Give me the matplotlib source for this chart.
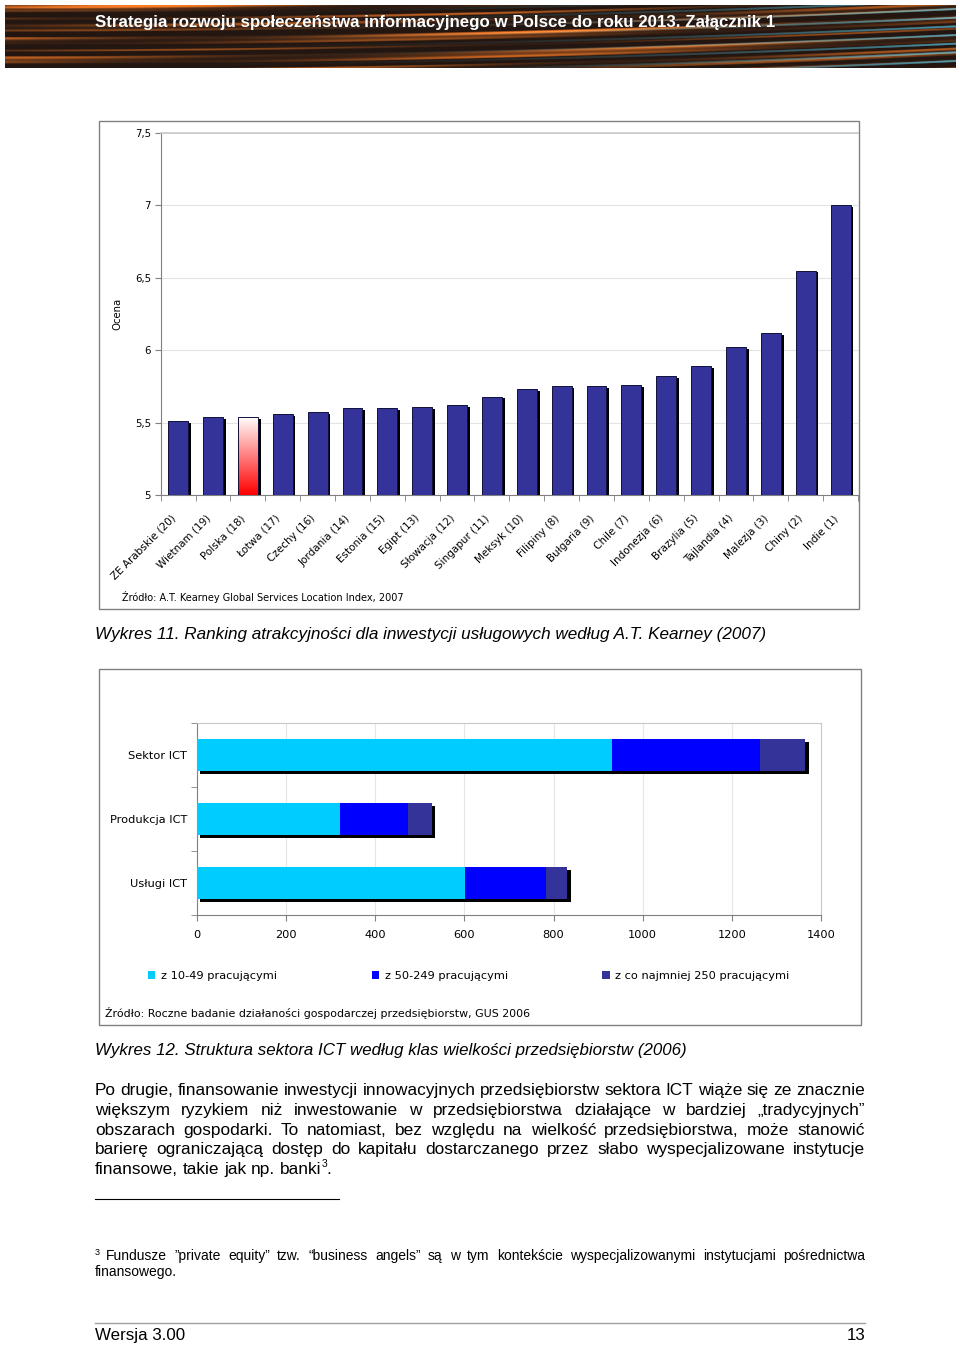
import matplotlib
matplotlib.use("Agg")
import matplotlib.pyplot as plt
import numpy as np
from matplotlib import font_manager
from matplotlib.patches import Rectangle
from matplotlib.colors import LinearSegmentedColormap

###############################################################
# data

countries = ['ZE Arabskie (20)', 'Wietnam (19)', 'Polska (18)', 'Łotwa (17)', 'Czechy (16)',
             'Jordania (14)', 'Estonia (15)', 'Egipt (13)', 'Słowacja (12)', 'Singapur (11)',
             'Meksyk (10)', 'Filipiny (8)', 'Bułgaria (9)', 'Chile (7)', 'Indonezja (6)',
             'Brazylia (5)', 'Tajlandia (4)', 'Malezja (3)', 'Chiny (2)', 'Indie (1)']
scores = [5.51, 5.54, 5.54, 5.56, 5.57, 5.60, 5.60, 5.61, 5.62, 5.68,
          5.73, 5.75, 5.75, 5.76, 5.82, 5.89, 6.02, 6.12, 6.55, 7.00]
highlight = 'Polska (18)'
score_ticks = [5, 5.5, 6, 6.5, 7, 7.5]
score_tick_labels = ['5', '5,5', '6', '6,5', '7', '7,5']

ict_categories = ['Sektor ICT', 'Produkcja ICT', 'Usługi ICT']
firms_10_49 = [932, 321, 601]
firms_50_249 = [331, 152, 183]
firms_250 = [102, 55, 47]
ict_series = ['z 10-49 pracującymi', 'z 50-249 pracującymi', 'z co najmniej 250 pracującymi']

header_title = 'Strategia rozwoju społeczeństwa informacyjnego w Polsce do roku 2013. Załącznik 1'
caption_11 = 'Wykres 11. Ranking atrakcyjności dla inwestycji usługowych według A.T. Kearney (2007)'
caption_12 = 'Wykres 12. Struktura sektora ICT według klas wielkości przedsiębiorstw (2006)'
source_11 = 'Źródło: A.T. Kearney Global Services Location Index, 2007'
source_12 = 'Źródło: Roczne badanie działaności gospodarczej przedsiębiorstw, GUS 2006'

paragraph = ['Po drugie, finansowanie inwestycji innowacyjnych przedsiębiorstw sektora ICT wiąże się ze znacznie',
             'większym ryzykiem niż inwestowanie w przedsiębiorstwa działające w bardziej „tradycyjnych”',
             'obszarach gospodarki. To natomiast, bez względu na wielkość przedsiębiorstwa, może stanowić',
             'barierę ograniczającą dostęp do kapitału dostarczanego przez słabo wyspecjalizowane instytucje',
             'finansowe, takie jak np. banki']
footnote = ['Fundusze ”private equity” tzw. “business angels” są w tym kontekście wyspecjalizowanymi instytucjami pośrednictwa',
            'finansowego.']

###############################################################

W, H = 960, 1345
names = {f.name for f in font_manager.fontManager.ttflist}
NARROW = 'Liberation Sans Narrow' if 'Liberation Sans Narrow' in names else 'Liberation Sans'
ARIAL = 'Liberation Sans'
VERD = 'DejaVu Sans'

fig = plt.figure(figsize=(W / 100, H / 100), dpi=100)
fig.patch.set_facecolor('white')


def fx(x):
    return x / W


def fy(y):
    return 1 - y / H


def box(x0, y0, x1, y1):
    return [fx(x0), fy(y1), (x1 - x0) / W, (y1 - y0) / H]


# header banner (decorative light streaks)
hax = fig.add_axes(box(5, 5, 955, 68))
hx, hy = np.meshgrid(np.linspace(0, 1, 950), np.linspace(0, 1, 63))
v = hy + 0.35 * hx ** 2
s = np.sin(v * 37) + np.sin(v * 61 + 1.3) + np.sin(v * 23 + 0.7)
warm = np.clip((s + 0.2) / 2.0, 0, 1) * (0.6 + 0.4 * np.sin(hx * 9 + v * 17))
warm = np.clip(warm, 0, 1) ** 1.3
cool = np.clip((np.sin(v * 45 + 2.1) - 0.5) / 0.5, 0, 1) * hx ** 3
img = np.zeros((63, 950, 3))
img[..., 0] = 0.14 + 0.85 * warm + 0.15 * cool
img[..., 1] = 0.09 + 0.40 * warm + 0.5 * cool
img[..., 2] = 0.07 + 0.08 * warm + 0.6 * cool
img = np.clip(img, 0, 1)
hax.imshow(img, aspect='auto', extent=[0, 1, 0, 1])
hax.set_axis_off()
fig.text(fx(96), fy(23), header_title, color='#202020', fontsize=12.2, fontweight='bold',
         family=ARIAL, va='center', ha='left', alpha=0.6)
fig.text(fx(95), fy(22), header_title, color='white', fontsize=12.2, fontweight='bold',
         family=ARIAL, va='center', ha='left')

# frames
fig.patches.append(Rectangle((fx(99), fy(609)), (859 - 99) / W, (609 - 121) / H,
                             transform=fig.transFigure, fill=False, edgecolor='#808080', lw=1))
fig.patches.append(Rectangle((fx(99), fy(1025)), (861 - 99) / W, (1025 - 669) / H,
                             transform=fig.transFigure, fill=False, edgecolor='#808080', lw=1))

###############################################################
# chart 1
ax = fig.add_axes(box(160.7, 133, 858, 495))
xs = np.arange(len(countries))
vals = np.asarray(scores)
bw = 0.57
ax.bar(xs + 0.08, vals - 0.013, bw, color='black', zorder=2)
colors = ['none' if c == highlight else '#333399' for c in countries]
ax.bar(xs, vals, bw, color=colors, edgecolor='#10103a', linewidth=0.7, zorder=4)
cmap = LinearSegmentedColormap.from_list('wr', ['#ff0000', '#ffffff'])
hi = countries.index(highlight)
ax.imshow(np.linspace(0, 1, 100).reshape(-1, 1), cmap=cmap, aspect='auto', origin='lower',
          extent=[hi - bw / 2, hi + bw / 2, 5, scores[hi]], zorder=3)
ax.set_xlim(-0.5, len(countries) - 0.5)
ax.set_ylim(5, 7.5)
ax.set_yticks(score_ticks)
ax.set_yticklabels(score_tick_labels, fontsize=7.3, family=VERD)
ax.yaxis.grid(True, color='#e4e4e4', lw=0.8)
ax.set_axisbelow(True)
ax.set_xticks(xs - 0.22)
ax.set_xticklabels(countries, rotation=45, ha='right', rotation_mode='anchor',
                   fontsize=7.5, family=VERD)
ax.set_xticks(np.arange(-0.5, len(countries), 1), minor=True)
ax.tick_params(axis='x', which='major', length=0, pad=13)
ax.tick_params(axis='x', which='minor', length=4, color='#808080')
ax.tick_params(axis='y', length=4, color='#808080', pad=3)
for s_ in ['left', 'bottom']:
    ax.spines[s_].set_color('#808080')
ax.spines['top'].set_color('#c8c8c8')
ax.spines['top'].set_linewidth(1.2)
ax.spines['right'].set_visible(False)
ax.set_ylabel('Ocena', fontsize=7.3, family=VERD, labelpad=9)
fig.text(fx(122), fy(597), source_11, fontsize=7.0, family=VERD, va='center')
fig.text(fx(95), fy(634), caption_11, fontsize=12.3, family=ARIAL, style='italic', va='center')

###############################################################
# chart 2
ax2 = fig.add_axes(box(197, 723, 821, 915))
ys = np.arange(len(ict_categories))
left = np.zeros(len(ict_categories))
totals = np.asarray(firms_10_49) + np.asarray(firms_50_249) + np.asarray(firms_250)
ax2.barh(ys + 0.05, totals, 0.5, left=7, color='black', zorder=2)
series = [firms_10_49, firms_50_249, firms_250]
seg_colors = ['#00ccff', '#0000ff', '#333399']
for name, vals2, c in zip(ict_series, series, seg_colors):
    ax2.barh(ys, vals2, 0.5, left=left, color=c, label=name, zorder=3)
    left = left + np.asarray(vals2)
ax2.set_xlim(0, 1400)
ax2.set_ylim(len(ict_categories) - 0.5, -0.5)
ax2.set_xticks(range(0, 1401, 200))
ax2.set_xticklabels([str(v) for v in range(0, 1401, 200)], fontsize=8.2, family=VERD)
ax2.set_yticks(ys)
ax2.set_yticklabels(ict_categories, fontsize=8.2, family=VERD)
ax2.set_yticks(np.arange(-0.5, len(ict_categories), 1), minor=True)
ax2.tick_params(axis='y', which='major', length=0, pad=7)
ax2.tick_params(axis='y', which='minor', length=4, color='#808080')
ax2.tick_params(axis='x', length=4, color='#808080', pad=7)
ax2.xaxis.grid(True, color='#e6e6e6', lw=0.8)
ax2.set_axisbelow(True)
for s_ in ['left', 'bottom']:
    ax2.spines[s_].set_color('#808080')
for s_ in ['top', 'right']:
    ax2.spines[s_].set_color('#c8c8c8')

handles, labels = ax2.get_legend_handles_labels()
fig.legend(handles, labels, loc='center left', bbox_to_anchor=(fx(148), fy(976)), ncol=3,
           frameon=False, prop={'family': VERD, 'size': 8.2}, borderpad=0,
           borderaxespad=0, handlelength=0.65, handleheight=0.65, handletextpad=0.5,
           columnspacing=8.3)
fig.text(fx(105), fy(1013), source_12, fontsize=7.9, family=VERD, va='center')
fig.text(fx(95), fy(1050), caption_12, fontsize=12.2, family=ARIAL, style='italic', va='center')

###############################################################
# body text, justified
renderer = fig.canvas.get_renderer()


def text_width(txt, fs):
    t = fig.text(0, 0, txt, fontsize=fs, family=NARROW)
    w = t.get_window_extent(renderer).width
    t.remove()
    return w


def place_line(line, x0, x1, y, fs, justify):
    words = line.split()
    texts = [fig.text(0, fy(y), w, fontsize=fs, family=NARROW, va='baseline') for w in words]
    widths = [t.get_window_extent(renderer).width for t in texts]
    if justify and len(words) > 1:
        gap = (x1 - x0 - sum(widths)) / (len(words) - 1)
    else:
        gap = text_width('a b', fs) - text_width('ab', fs)
    x = x0
    for t, w in zip(texts, widths):
        t.set_x(fx(x))
        x += w + gap
    return x - gap


BODY = 12.4
line_ys = [1095, 1115, 1135, 1154, 1174]
for i, (line, y) in enumerate(zip(paragraph, line_ys)):
    end = place_line(line, 95, 865, y, BODY, i < len(paragraph) - 1)
fig.text(fx(end + 0.5), fy(line_ys[-1] - 7), '3', fontsize=7.5, family=NARROW, va='baseline')
fig.text(fx(end + 5), fy(line_ys[-1]), '.', fontsize=BODY, family=NARROW, va='baseline')

fig.add_artist(plt.Line2D([fx(95), fx(339)], [fy(1199), fy(1199)], color='black', lw=0.8))

fig.text(fx(95), fy(1255), '3', fontsize=6.5, family=NARROW, va='baseline')
place_line(footnote[0], 106, 865, 1260, 10, True)
place_line(footnote[1], 95, 865, 1276, 10, False)

fig.add_artist(plt.Line2D([fx(95), fx(865)], [fy(1323), fy(1323)], color='#a0a0a0', lw=1))
fig.text(fx(95), fy(1340), 'Wersja 3.00', fontsize=12.2, family=NARROW, va='baseline')
fig.text(fx(865), fy(1340), '13', fontsize=12.2, family=NARROW, va='baseline', ha='right')

plt.savefig('out.png', dpi=100)
plt.close()
